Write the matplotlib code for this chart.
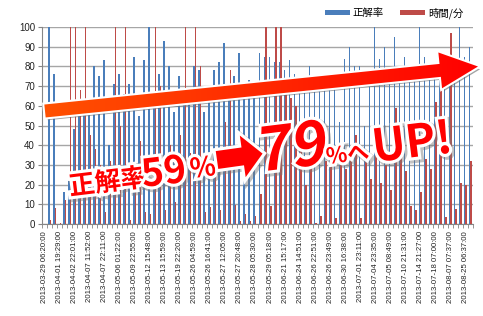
import numpy as np
import matplotlib
matplotlib.use('Agg')
import matplotlib.pyplot as plt
import matplotlib.patheffects as pe
from matplotlib.patches import Polygon, PathPatch
from matplotlib.textpath import TextPath
from matplotlib.font_manager import FontProperties
from matplotlib.transforms import Affine2D
from matplotlib.colors import LinearSegmentedColormap

plt.rcParams['font.family'] = ['Noto Sans CJK JP', 'DejaVu Sans']

# every third category carries a label
tick_labels = [
    '2013-03-29 06:20:00', '2013-04-01 19:29:00', '2013-04-02 22:01:00',
    '2013-04-07 11:52:00', '2013-04-07 22:11:00', '2013-05-06 01:22:00',
    '2013-05-09 22:55:00', '2013-05-12 15:48:00', '2013-05-13 15:59:00',
    '2013-05-19 22:20:00', '2013-05-26 04:59:00', '2013-05-26 16:41:00',
    '2013-05-27 12:05:00', '2013-05-27 20:48:00', '2013-05-28 05:30:00',
    '2013-05-29 05:18:00', '2013-06-21 15:17:00', '2013-06-24 14:51:00',
    '2013-06-26 22:51:00', '2013-06-26 23:49:00', '2013-06-30 16:38:00',
    '2013-07-01 23:11:00', '2013-07-04 23:35:00', '2013-07-05 08:49:00',
    '2013-07-10 21:31:00', '2013-07-14 21:27:00', '2013-07-18 07:00:00',
    '2013-08-07 07:37:00', '2013-08-25 06:37:00',
]

# 正解率 (blue)
seikai = [0, 100, 76, 0, 16, 22, 48, 58, 56, 60,
          80, 75, 83, 40, 71, 76, 66, 71, 85, 55,
          83, 100, 64, 76, 93, 80, 57, 75, 65, 66,
          80, 78, 57, 67, 78, 82, 92, 67, 75, 87,
          69, 73, 70, 87, 85, 85, 82, 82, 78, 83,
          76, 71, 72, 80, 72, 73, 68, 68, 74, 52,
          84, 90, 80, 80, 50, 75, 100, 84, 90, 76,
          95, 79, 85, 77, 76, 100, 85, 78, 77, 80,
          84, 79, 82, 100, 85, 90]

# 時間/分 (red)
jikan = [0, 2, 8, 0.5, 12, 100, 100, 68, 100, 45,
         38, 30, 6, 32, 100, 50, 100, 2, 28, 42,
         6, 5, 100, 70, 7, 40, 11, 45, 100, 36,
         100, 80, 6, 8.5, 30, 7, 52, 78, 9.5, 1.5,
         5, 1.5, 4, 15, 100, 9, 100, 100, 74, 64,
         60, 40, 20, 30, 0.7, 4, 32, 32, 3, 40,
         28, 35, 45, 3, 35, 23, 42, 21, 30, 17.5,
         59, 40, 27, 9, 7, 16, 33, 28, 62, 74,
         3.5, 97, 7.5, 21, 20, 32]

BLUE = '#4a7ebb'
RED = '#be4b48'
HOT = '#ff0000'
W, H = 483, 316

fig = plt.figure(figsize=(W / 100, H / 100), dpi=100)
ax = fig.add_axes([42 / W, 1 - 224 / H, 431 / W, 197 / H])

x = np.arange(len(seikai))
ax.bar(x - 0.15, seikai, 0.3, color=BLUE, label='正解率', zorder=3)
ax.bar(x + 0.15, jikan, 0.3, color=RED, label='時間/分', zorder=3)

ax.set_xlim(-0.5, len(seikai) - 0.5)
ax.set_ylim(0, 100)
ax.set_yticks(range(0, 101, 10))
ax.grid(axis='y', color='#a6a6a6', lw=1.0, zorder=0)
for s in ['top', 'right']:
    ax.spines[s].set_visible(False)
for s in ['left', 'bottom']:
    ax.spines[s].set_color('#868686')
ax.tick_params(axis='y', length=3, color='#868686', pad=2, labelsize=7, labelcolor='#222')
for t in ax.get_yticklabels():
    t.set_family('Liberation Sans')

ax.set_xticks(range(0, len(seikai), 3))
ax.set_xticklabels(tick_labels, rotation=90, fontsize=5.6, family='Liberation Sans', color='#222')
ax.set_xticks(np.arange(-0.5, len(seikai), 1), minor=True)
ax.tick_params(axis='x', which='major', length=0, pad=5)
ax.tick_params(axis='x', which='minor', length=3, color='#868686')

fig.legend(loc='center left', bbox_to_anchor=(325 / W, 1 - 13 / H), ncol=2, frameon=False,
           fontsize=7.5, handlelength=2.4, handleheight=0.35, handletextpad=0.25,
           columnspacing=1.6, borderpad=0, borderaxespad=0)

# overlay in pixel coordinates
ov = fig.add_axes([0, 0, 1, 1], zorder=10)
ov.axis('off')


def arrow_pts(x0, y0, x1, y1, half, head_half, head_len):
    p0 = np.array([x0, y0], float)
    d = np.array([x1 - x0, y1 - y0], float)
    L = np.hypot(*d)
    u = d / L
    n = np.array([-u[1], u[0]])
    pb = p0 + u * (L - head_len)
    tip = p0 + u * L
    return [p0 + n * half, pb + n * half, pb + n * head_half, tip,
            pb - n * head_half, pb - n * half, p0 - n * half]


pts = arrow_pts(45, 111, 478, 66.5, 6.5, 18, 38)
ov.add_patch(Polygon(pts, closed=True, fc='white', ec='white', lw=3, joinstyle='miter', zorder=2,
                     path_effects=[pe.SimplePatchShadow(offset=(1.5, -2), shadow_rgbFace='#666', alpha=0.6),
                                   pe.Normal()]))
clip = Polygon(pts, closed=True, transform=ov.transData)
cmap = LinearSegmentedColormap.from_list('g', ['#ff5200', '#ff0000'])
im = ov.imshow(np.linspace(0, 1, 256).reshape(1, -1), extent=[40, 480, 125, 45],
               cmap=cmap, aspect='auto', zorder=3)
im.set_clip_path(clip)

txt_fx = [pe.Stroke(linewidth=5.5, foreground='#777777', alpha=0.45, offset=(1.5, -1.5)),
          pe.Stroke(linewidth=4.5, foreground='white'), pe.Normal()]
fp = FontProperties(family='Noto Sans CJK JP', weight='bold')


def add_text(s, x0, y0, size, rot=7, skew=0):
    tp = TextPath((0, 0), s, size=size, prop=fp)
    tr = Affine2D().skew_deg(skew, 0).rotate_deg(rot).scale(1, -1).translate(x0, y0)
    ov.add_patch(PathPatch(tr.transform_path(tp), fc=HOT, ec='none', zorder=5, path_effects=txt_fx))


add_text('正解率', 70, 195, 26)
add_text('59', 143, 187, 38)
add_text('%', 191, 178, 27)
add_text('79', 257, 172, 60, skew=9)
add_text('%へ', 327, 164, 22)
add_text('UP!', 374, 162, 45)

# small block arrow between the numbers
a = np.deg2rad(8)
R = np.array([[np.cos(a), np.sin(a)], [-np.sin(a), np.cos(a)]])
local = np.array([(0, -9), (26, -9), (26, -21), (46, 0), (26, 21), (26, 9), (0, 9)], float)
small = local @ R.T + np.array([217, 160])
ov.add_patch(Polygon(small, closed=True, fc=HOT, ec='none', zorder=5, path_effects=txt_fx))

ov.set_xlim(0, W)
ov.set_ylim(H, 0)

fig.savefig('out.png', dpi=100)
